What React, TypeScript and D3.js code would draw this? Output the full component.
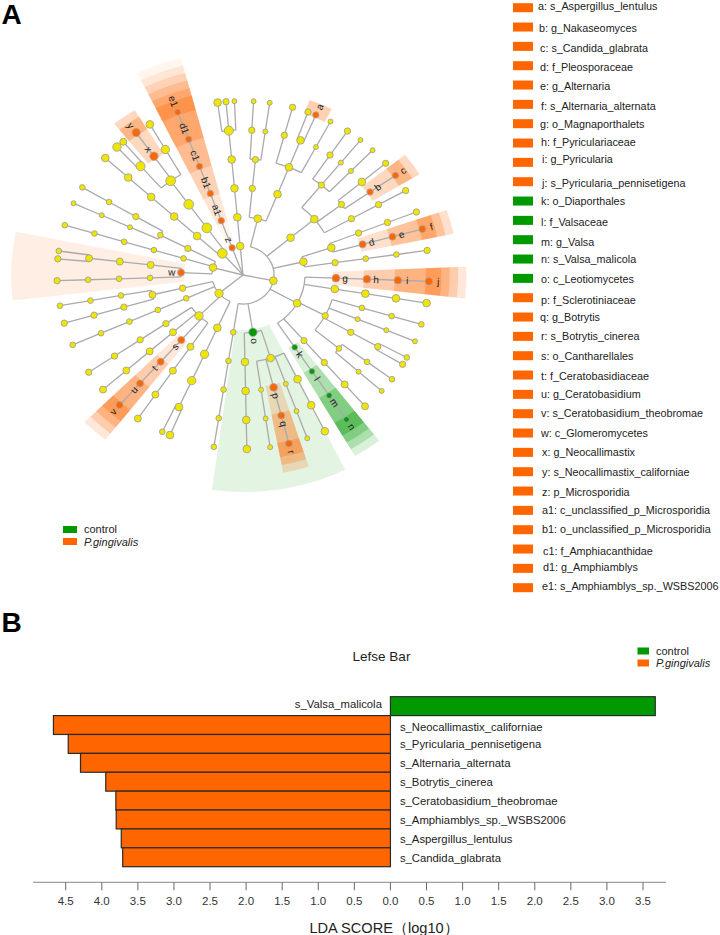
import * as d3 from "d3";

type Clade = { label?: string; size: number; children?: Clade[] };
type Tree = d3.HierarchyPointNode<Clade>;

// plain clade / clade with a biomarker letter
const n = (size: number, ...children: Clade[]): Clade => ({ size, children });
const b = (label: string, size: number, ...children: Clade[]): Clade => ({ label, size, children });

// phyla, written clockwise from the top left
const microsporidia = b("z", 2, b("a1", 2, b("b1", 2, b("c1", 2, b("d1", 2, b("e1", 2))))));

const topPhylum = n(3, n(3, n(3, n(3, n(4, n(3), n(2), n(1))))));

const ascomycota = n(3,
  n(3,
    n(2, n(2, n(2, n(1)), n(1, n(1)))),
    n(3, n(3, n(2, n(2)), n(3, n(2), b("a", 2)), n(1, n(1))))),
  n(3, n(3,
    n(2, n(2, n(2)), n(1, n(1)), n(1, n(1))),
    n(2, n(3, n(2)), b("b", 2, b("c", 2))),
    n(2, n(2, n(2))))),
  n(3,
    n(3, n(2, n(2, n(2))), b("d", 2.5, b("e", 2.5, b("f", 2.5)))),
    n(2, n(1.5, n(1.5, n(2))))),
  n(3,
    b("g", 3, b("h", 3, b("i", 3, b("j", 3)))),
    n(3, n(3, n(3, n(3)))),
    n(2,
      n(1.5, n(1.5, n(1.5))),
      n(1, n(1, n(1))),
      n(2, n(2, n(1.5), n(2))),
      n(1.5, n(1.5, n(1.5)), n(1, n(1)))),
    n(2, n(2, n(2.5, n(2.5)))),
    b("k", 1.5, b("l", 1.5, b("m", 1.5, b("n", 1.5))))),
  b("o", 3.5,
    n(3,
      n(3, n(3, n(3))),
      n(1, n(1, n(1))),
      b("p", 3, b("q", 2.5, b("r", 2.5))),
      n(1, n(1, n(1)))),
    n(3, n(3, n(3, n(3))))),
  n(1.5, n(1.5, n(1.5, n(1.5, n(1.5))))));

const basidiomycota = n(3.5,
  n(3, n(3.5, n(3.5, n(3, n(3), n(1.5))))),
  n(3.5,
    n(2.5, n(2.5, n(2.5, n(2.5)))),
    b("s", 2.5, b("t", 2.5, b("u", 2.5, b("v", 2.5)))),
    n(2.5, n(2.5, n(2.5, n(2.5)))),
    n(2, n(2, n(2, n(2))))),
  n(1.5, n(1.5, n(1.5, n(1.5, n(1.5))))),
  n(2, n(2.5, n(2, n(2, n(2))), n(1.5, n(1.5, n(1.5))))));

const glomeromycota = n(3,
  b("w", 2.5,
    n(1.5, n(1.5, n(1.5, n(2)))),
    n(2.5, n(2.5, n(2.5, n(2), n(1.5))))),
  n(1.5, n(1.5, n(1.5, n(1.5, n(1.5))))),
  n(2, n(1.5, n(1, n(1, n(1))), n(2, n(1.5, n(1.5))))));

const chytridPhylum = n(4.5,
  n(3, n(3, n(3, n(3, n(3))))),
  n(4.5, n(4.5, n(4.5,
    n(4, n(3.5), n(2.5)),
    b("x", 3.5, b("y", 3.5)),
    n(3.5, n(3))))));

const phyla = [microsporidia, topPhylum, ascomycota, basidiomycota, glomeromycota, chytridPhylum];

// degrees between neighbouring leaves: where they part at phylum or class level
const cladeGaps = [12.7, 5.9, 6.1, 7.8, 10.2, 7.7, 10.2, 14.1, 8.7, 10.3, 7.6, 8.3, 8.7, 7.7, 12, 5.1];
const closingGap = 9.5;
// and deeper in the tree, by depth of the shared ancestor
const depthGaps: Record<number, number> = { 2: 7.2, 3: 5.9, 4: 5, 5: 2.6 };

const controlLabels = ["k", "l", "m", "n", "o"];

const biomarkerLabels = [
  "a", "b", "c", "d", "e", "f", "g", "h", "i", "j", "k", "l", "m", "n", "o", "p",
  "q", "r", "s", "t", "u", "v", "w", "x", "y", "z", "a1", "b1", "c1", "d1", "e1",
];
const biomarkerNames = [
  "s_Aspergillus_lentulus", "g_Nakaseomyces", "s_Candida_glabrata", "f_Pleosporaceae",
  "g_Alternaria", "s_Alternaria_alternata", "o_Magnaporthalets", "f_Pyriculariaceae",
  "g_Pyricularia", "s_Pyricularia_pennisetigena", "o_Diaporthales", "f_Valsaceae",
  "g_Valsa", "s_Valsa_malicola", "c_Leotiomycetes", "f_Sclerotiniaceae", "g_Botrytis",
  "s_Botrytis_cinerea", "o_Cantharellales", "f_Ceratobasidiaceae", "g_Ceratobasidium",
  "s_Ceratobasidium_theobromae", "c_Glomeromycetes", "g_Neocallimastix",
  "s_Neocallimastix_californiae", "p_Microsporidia", "c_unclassified_p_Microsporidia",
  "o_unclassified_p_Microsporidia", "f_Amphiacanthidae", "g_Amphiamblys",
  "s_Amphiamblys_sp._WSBS2006",
];
// the pasted legend is a little uneven
const legendTextDx = [0, 1, 2, 2, 2, 3, 2, 3, 4, 4, 3, 3, 3, 3, 3, 3, 2, 3, 3, 3, 3, 3, 3, 4, 4, 4, 4, 4, 5, 5, 4];
const legendTextDy = [-1, 1.5, 2, 2, 1, 2, 1, -1, -3, 1.5, 0.5, 2.3, 2.5, 0.5, 1.3, 2.3, 0.3, 0.3, 0.4, 1.3, 0.3, -0.7, 0.3, 0.3, 0.3, 0.7, -0.4, -0.3, 1.7, -1, -1.7];

const barNames = [
  "s_Valsa_malicola", "s_Neocallimastix_californiae", "s_Pyricularia_pennisetigena",
  "s_Alternaria_alternata", "s_Botrytis_cinerea", "s_Ceratobasidium_theobromae",
  "s_Amphiamblys_sp._WSBS2006", "s_Aspergillus_lentulus", "s_Candida_glabrata",
];
const barScores = [3.67, -4.67, -4.465, -4.295, -3.945, -3.805, -3.8, -3.73, -3.71];
const scoreTicks = [-4.5, -4, -3.5, -3, -2.5, -2, -1.5, -1, -0.5, 0, 0.5, 1, 1.5, 2, 2.5, 3, 3.5];

const ORANGE = "#ff6600";
const GREEN = "#009900";
const FONT = "'Liberation Sans', Arial, sans-serif";

const cx = 243;
const cy = 275;

const root = d3.hierarchy<Clade>({ size: 0, children: phyla });
const leaves = root.leaves();

// gap in front of every leaf, from the depth its branch splits off at
const gapsBefore = (() => {
  let next = 0;
  return leaves.map((leaf, i) => {
    if (i === 0) return closingGap;
    const depth = leaf.path(leaves[i - 1]).reduce((m, d) => Math.min(m, d.depth), 6);
    return depth <= 1 ? cladeGaps[next++] : depthGaps[depth];
  });
})();

const tree = d3
  .cluster<Clade>()
  .size([360, 6])
  .separation((a, c) => {
    const i = leaves.indexOf(a);
    const j = leaves.indexOf(c);
    return Math.abs(i - j) > 1 ? closingGap : gapsBefore[Math.max(i, j)];
  })(root) as Tree;

// a parent sits halfway between its outer children, not on their mean
tree.eachAfter((d) => {
  if (d.children) d.x = (d.children[0].x + d.children[d.children.length - 1].x) / 2;
});

const angle = d3.scaleLinear().domain([0, 360]).range([(-25.3 * Math.PI) / 180, (334.7 * Math.PI) / 180]);
const radius = d3.scaleLinear().domain([0, 6]).range([0, 186]);
// the figure was squeezed a bit when it was pasted: 29 down for 31 across
const px = d3.scaleLinear().domain([-6, 6]).range([cx - 186, cx + 186]);
const py = d3.scaleLinear().domain([-6, 6]).range([cy - 174, cy + 174]);
const nodeRadius = d3.scaleLinear().domain([1, 5]).range([2.5, 5.2]);

const polar = (deg: number, level: number): [number, number] => [
  px(level * Math.sin(angle(deg))),
  py(-level * Math.cos(angle(deg))),
];

const nodes = tree.descendants().filter((d) => d.depth > 0);
const marked = nodes.filter((d) => d.data.label);
const colorOf = (d: Tree) => (controlLabels.includes(d.data.label!) ? GREEN : ORANGE);

const wedgeOpacity = [0, 0.06, 0.11, 0.15, 0.2, 0.25, 0.3];
const outerLevel = (depth: number) => 6.4 + 0.27 * (6 - depth);

const wedge = (d: Tree) => {
  const own = d.leaves();
  const first = leaves.indexOf(own[0] as never);
  const last = leaves.indexOf(own[own.length - 1] as never);
  const before = gapsBefore[first];
  const after = gapsBefore[(last + 1) % leaves.length];
  const pad = Math.max(3.5, (before + after) / 4);
  const half = (own[own.length - 1].x - own[0].x) / 2 + pad;
  return d3.arc()({
    innerRadius: radius(d.depth - 0.1),
    outerRadius: radius(outerLevel(d.depth)),
    startAngle: angle(d.x - half),
    endAngle: angle(d.x + half),
  }) as string;
};

const bracket = (d: Tree) =>
  d3.arc()({
    innerRadius: radius(d.depth),
    outerRadius: radius(d.depth),
    startAngle: angle(d.children![0].x),
    endAngle: angle(d.children![d.children!.length - 1].x),
  }) as string;

const Cladogram = () => (
  <g>
    <g transform={`translate(${cx},${cy}) scale(1,${174 / 186})`}>
      {marked.map((d, i) => (
        <path key={i} d={wedge(d)} fill={colorOf(d)} fillOpacity={wedgeOpacity[d.depth]} />
      ))}
      {nodes
        .filter((d) => d.children && d.children.length > 1)
        .map((d, i) => (
          <path key={i} d={bracket(d)} fill="none" stroke="#aaa" strokeWidth={1.3} />
        ))}
    </g>
    {nodes.map((d, i) => {
      const [x1, y1] = polar(d.x, d.depth - 1);
      const [x2, y2] = polar(d.x, d.depth);
      return <line key={i} x1={x1} y1={y1} x2={x2} y2={y2} stroke="#aaa" strokeWidth={1.3} />;
    })}
    {nodes.map((d, i) => {
      const [x, y] = polar(d.x, d.depth);
      return (
        <circle
          key={i}
          cx={x}
          cy={y}
          r={nodeRadius(d.data.size)}
          fill={d.data.label ? colorOf(d) : "#efe600"}
          stroke={d.data.label ? "#aaa" : "#999"}
          strokeWidth={0.8}
        />
      );
    })}
    {marked.map((d, i) => {
      const label = d.data.label!;
      const [x, y] = polar(d.x, d.depth + (label.length > 1 ? 0.4 : 0.3));
      const a = (((angle(d.x) * 180) / Math.PI) % 360 + 360) % 360;
      const rotate = a < 180 ? a - 90 : a + 90;
      return (
        <text
          key={i}
          transform={`translate(${x},${y}) rotate(${rotate})`}
          textAnchor="middle"
          dy="0.35em"
          fontSize={10}
          fontFamily={FONT}
          fill="#222"
        >
          {label}
        </text>
      );
    })}
  </g>
);

const legendRow = d3.scaleLinear().domain([0, 30]).range([7.7, 587.7]);

const BiomarkerLegend = () => (
  <g fontFamily={FONT} fontSize={10.8} fill="#222">
    {biomarkerLabels.map((label, i) => (
      <g key={label}>
        <rect
          x={513}
          y={legendRow(i) - 4.5}
          width={20}
          height={9}
          fill={controlLabels.includes(label) ? GREEN : ORANGE}
        />
        <text x={538 + legendTextDx[i]} y={legendRow(i) + legendTextDy[i]} dy="0.35em">
          {`${label}: ${biomarkerNames[i]}`}
        </text>
      </g>
    ))}
  </g>
);

const GroupLegend = ({ x, y, gap }: { x: number; y: number; gap: number }) => (
  <g fontFamily={FONT} fontSize={11} fill="#222">
    <rect x={x} y={y - 3.5} width={gap - 7} height={7} fill={GREEN} />
    <rect x={x} y={y + 8.5} width={gap - 7} height={7} fill={ORANGE} />
    <text x={x + gap} y={y} dy="0.35em">
      control
    </text>
    <text x={x + gap} y={y + 12.5} dy="0.35em" fontStyle="italic">
      P.gingivalis
    </text>
  </g>
);

const score = d3.scaleLinear().domain([-4.5, 3.5]).range([65.7, 643]);
const row = d3.scaleBand().domain(barNames).range([696.7, 866.7]);
const AXIS_Y = 882.3;

const LefseBar = () => (
  <g fontFamily={FONT}>
    <text x={381.5} y={656} dy="0.35em" textAnchor="middle" fontSize={13.5} fill="#222">
      Lefse Bar
    </text>
    {barNames.map((name, i) => (
      <rect
        key={name}
        x={score(Math.min(0, barScores[i]))}
        y={row(name)}
        width={Math.abs(score(barScores[i]) - score(0))}
        height={row.bandwidth()}
        fill={barScores[i] > 0 ? GREEN : ORANGE}
        stroke="#2a2a2a"
        strokeWidth={1.2}
      />
    ))}
    <g fontSize={11.3} fill="#222">
      {barNames.map((name, i) => (
        <text
          key={name}
          x={score(0) + (barScores[i] > 0 ? -8.5 : 9.5)}
          y={(row(name) as number) + row.bandwidth() / 2 + (i === 1 ? 2 : i === 0 ? -2 : 0.5)}
          dy="0.35em"
          textAnchor={barScores[i] > 0 ? "end" : "start"}
        >
          {name}
        </text>
      ))}
    </g>
    <line x1={33} x2={666} y1={AXIS_Y} y2={AXIS_Y} stroke="#888" strokeWidth={1} />
    {scoreTicks.map((t) => (
      <g key={t} transform={`translate(${score(t)},0)`}>
        <line y1={AXIS_Y} y2={AXIS_Y + 8} stroke="#666" strokeWidth={1} />
        <text y={901} dy="0.35em" textAnchor="middle" fontSize={11.5} fill="#333">
          {d3.format(".1f")(Math.abs(t))}
        </text>
      </g>
    ))}
    <text x={384} y={928} dy="0.35em" textAnchor="middle" fontSize={14.6} fill="#222">
      LDA SCORE（log10）
    </text>
  </g>
);

export default function App() {
  return (
    <svg
      width={720}
      height={935}
      viewBox="0 0 720 935"
      style={{ position: "absolute", left: 0, top: 0, display: "block", background: "#fff" }}
    >
      <text x={1.5} y={24} fontFamily={FONT} fontWeight="bold" fontSize={28} fill="#000">
        A
      </text>
      <text x={1.5} y={632} fontFamily={FONT} fontWeight="bold" fontSize={28} fill="#000">
        B
      </text>
      <Cladogram />
      <BiomarkerLegend />
      <GroupLegend x={63} y={529.5} gap={21} />
      <GroupLegend x={637.5} y={651} gap={18.5} />
      <LefseBar />
    </svg>
  );
}
